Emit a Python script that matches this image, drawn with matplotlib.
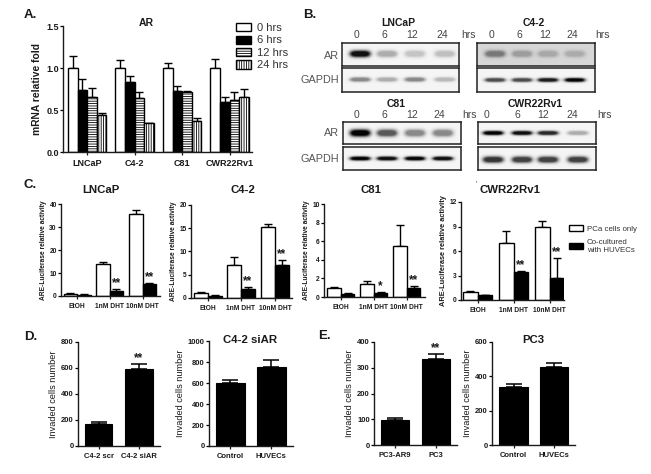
import matplotlib
matplotlib.use("Agg")
import matplotlib.pyplot as plt
from matplotlib.patches import Patch
import numpy as np

W, H = 651, 474
plt.rcParams["font.family"] = ["Liberation Sans", "DejaVu Sans"]
plt.rcParams["hatch.linewidth"] = 0.6
INK = "#1a1a1a"

# panel A
a_cells = ["LNCaP", "C4-2", "C81", "CWR22Rv1"]
a_times = ["0 hrs", "6 hrs", "12 hrs", "24 hrs"]
a_vals = [[1.0, 1.0, 1.0, 1.0], [0.74, 0.83, 0.73, 0.59], [0.66, 0.64, 0.71, 0.62], [0.44, 0.34, 0.37, 0.65]]
a_errs = [[0.14, 0.10, 0.06, 0.11], [0.13, 0.08, 0.05, 0.06], [0.10, 0.07, 0.02, 0.10], [0.02, 0.005, 0.03, 0.10]]

# panel B (band darkness per lane, 0 to 1)
b_lanes = ["0", "6", "12", "24"]
b_lnc_ar = [0.95, 0.30, 0.20, 0.22]
b_lnc_gapdh = [0.45, 0.30, 0.45, 0.25]
b_c42_ar = [0.45, 0.28, 0.22, 0.20]
b_c42_gapdh = [0.70, 0.70, 0.90, 1.0]
b_c81_ar = [1.0, 0.65, 0.45, 0.45]
b_c81_gapdh = [1.0, 0.95, 1.0, 0.95]
b_cwr_ar = [1.0, 0.95, 0.85, 0.30]
b_cwr_gapdh = [0.80, 0.75, 0.75, 0.75]

# panel C
c_groups = ["EtOH", "1nM DHT", "10nM DHT"]
c_lnc_only = [1.0, 13.7, 35.5]
c_lnc_only_err = [0.2, 1.0, 1.8]
c_lnc_co = [0.6, 2.2, 5.4]
c_lnc_co_err = [0.1, 0.8, 0.4]
c_c42_only = [1.0, 7.0, 15.3]
c_c42_only_err = [0.2, 1.8, 0.6]
c_c42_co = [0.5, 1.9, 7.2]
c_c42_co_err = [0.1, 0.4, 1.0]
c_c81_only = [1.0, 1.35, 5.5]
c_c81_only_err = [0.1, 0.4, 2.2]
c_c81_co = [0.35, 0.45, 1.0]
c_c81_co_err = [0.05, 0.05, 0.15]
c_cwr_only = [1.0, 7.0, 9.0]
c_cwr_only_err = [0.05, 1.5, 0.7]
c_cwr_co = [0.6, 3.4, 2.7]
c_cwr_co_err = [0.05, 0.15, 2.4]

# panels D and E
d1_labels = ["C4-2 scr", "C4-2 siAR"]
d1_vals = [170, 591]
d1_errs = [15, 40]
d2_labels = ["Control", "HUVECs"]
d2_vals = [596, 754]
d2_errs = [35, 66]
e1_labels = ["PC3-AR9", "PC3"]
e1_vals = [98, 335]
e1_errs = [8, 18]
e2_labels = ["Control", "HUVECs"]
e2_vals = [335, 457]
e2_errs = [19, 23]

fig = plt.figure(figsize=(W / 100, H / 100), dpi=100)


def px_axes(x0, y0, x1, y1):
    # Achsen in Bildpixeln angeben, x-Daten laufen in Pixeln ab der y-Achse
    ax = fig.add_axes([x0 / W, 1 - y1 / H, (x1 - x0) / W, (y1 - y0) / H])
    ax.set_xlim(0, x1 - x0)
    ax.spines["top"].set_visible(False)
    ax.spines["right"].set_visible(False)
    for s in ["left", "bottom"]:
        ax.spines[s].set_linewidth(1.0)
        ax.spines[s].set_color(INK)
    return ax


def px_text(x, y, s, **kw):
    kw.setdefault("color", INK)
    kw.setdefault("va", "center")
    fig.text(x / W, 1 - y / H, s, **kw)


def style_axis(ax, ymax, yticks, labels, xt, ylabel, tsize, lsize, weight="bold", lpad=1.5):
    ax.set_ylim(0, ymax)
    ax.set_yticks(yticks)
    ax.set_xticks(xt)
    ax.set_xticklabels(labels, fontsize=tsize, fontweight="bold", color=INK)
    ax.tick_params(axis="y", labelsize=tsize, length=2.5, width=0.9, pad=0.5, labelcolor=INK)
    ax.tick_params(axis="x", length=2, width=0.9, pad=3, color=INK)
    for t in ax.get_yticklabels():
        t.set_fontweight("bold")
    ax.set_ylabel(ylabel, fontsize=lsize, fontweight=weight, color=INK, labelpad=lpad)


# A
ax = px_axes(63, 26, 252, 152)
starts = [5, 52.3, 100, 147.3]
bw = 9.6
fills = ["white", "black", "white", "white"]
hatches = [None, None, "-------", "|||||||"]
for i in range(4):
    xs = [s + i * bw for s in starts]
    ax.bar(xs, a_vals[i], bw, color=fills[i], edgecolor="black", linewidth=1.0,
           hatch=hatches[i], align="edge", zorder=2)
    ax.errorbar([x + bw / 2 for x in xs], a_vals[i], yerr=[[0] * 4, a_errs[i]], fmt="none",
                ecolor="black", elinewidth=1.0, capsize=2.6, capthick=1.0, zorder=1)
style_axis(ax, 1.5, [0, 0.5, 1.0, 1.5], a_cells, [s + 2 * bw for s in starts], "mRNA relative fold", 6.5, 7.4, lpad=3)
ax.set_yticklabels(["0.0", "0.5", "1.0", "1.5"], fontweight="bold")
handles = [Patch(facecolor=fills[i], edgecolor="black", linewidth=1.0, hatch=hatches[i]) for i in range(4)]
fig.legend(handles, a_times, loc="upper left", bbox_to_anchor=(236 / W, 1 - 23 / H), frameon=False,
           fontsize=8, handlelength=1.35, handleheight=0.75, labelspacing=0.22, handletextpad=0.55,
           borderpad=0, borderaxespad=0, labelcolor="#333333")
px_text(146, 23, "AR", fontsize=7.5, fontweight="bold", ha="center")


# B
def blot(x0, y0, x1, y1, lanes, dark, sigx, sigy, bg=0.96, cy=0.5):
    # Blot-Bild aus den Bandenstärken aufbauen
    ax = fig.add_axes([x0 / W, 1 - y1 / H, (x1 - x0) / W, (y1 - y0) / H])
    nx, ny = (x1 - x0) * 2, (y1 - y0) * 2
    xx, yy = np.meshgrid(np.linspace(x0, x1, nx), np.linspace(0, 1, ny) * (y1 - y0))
    img = np.full((ny, nx), float(bg))
    ymid = (y1 - y0) * cy
    for lx, d in zip(lanes, dark):
        g = np.minimum(1, 1.6 * np.exp(-((xx - lx) / sigx) ** 4) * np.exp(-((yy - ymid) / sigy) ** 2))
        img -= g * d * bg * 0.98
    ax.imshow(np.clip(img, 0, 1), cmap="gray", vmin=0, vmax=1, aspect="auto", interpolation="bilinear")
    ax.set_xticks([])
    ax.set_yticks([])
    for s in ax.spines.values():
        s.set_linewidth(1.1)
        s.set_color("#222222")


lanes_lnc = [360, 387, 415, 445]
lanes_c42 = [495, 522, 548, 575]
lanes_c81 = [360, 387, 415, 443]
lanes_cwr = [493, 522, 548, 578]
blot(342, 43, 459, 66, lanes_lnc, b_lnc_ar, 10, 3.2, cy=0.47)
blot(342, 68, 459, 92, lanes_lnc, b_lnc_gapdh, 10, 2.0)
blot(477, 43, 595, 66, lanes_c42, b_c42_ar, 10, 3.2, bg=0.84, cy=0.47)
blot(477, 68, 595, 92, lanes_c42, b_c42_gapdh, 10, 1.8, cy=0.52)
blot(343, 122, 461, 144, lanes_c81, b_c81_ar, 10, 3.4, cy=0.5)
blot(343, 147, 461, 170, lanes_c81, b_c81_gapdh, 10, 1.9, cy=0.5)
blot(478, 122, 596, 144, lanes_cwr, b_cwr_ar, 10, 2.0, cy=0.5)
blot(478, 147, 596, 170, lanes_cwr, b_cwr_gapdh, 10, 3.0, cy=0.55)

for title, tx, lanes, hx, ly, ty in [("LNCaP", 398, lanes_lnc, 468, 35, 23),
                                     ("C4-2", 534, lanes_c42, 603, 35, 23),
                                     ("C81", 396, [359, 387, 415, 442], 470, 115, 104),
                                     ("CWR22Rv1", 535, [490, 520, 546, 575], 604, 115, 104)]:
    px_text(tx, ty, title, fontsize=7.5, fontweight="bold", ha="center")
    for lx, lab in zip(lanes, b_lanes):
        px_text(lx - 3, ly, lab, fontsize=7.5, ha="center", color="#444444")
    px_text(hx, ly, "hrs", fontsize=7.5, ha="center", color="#444444")
for x, y, lab in [(339, 56, "AR"), (339, 80, "GAPDH"), (339, 133, "AR"), (339, 159, "GAPDH")]:
    px_text(x, y, lab, fontsize=7.8, ha="right", color="#555555")


# C
def luc_panel(box, ymax, yticks, starts, bw, only, only_err, co, co_err, stars, title, tx, ty, lsize=4.8):
    ax = px_axes(*box)
    ends = [s + bw for s in starts]
    ax.bar(starts, only, bw, color="white", edgecolor="black", linewidth=1.0, align="edge", zorder=2)
    ax.bar(ends, co, bw, color="black", edgecolor="black", linewidth=1.0, align="edge", zorder=2)
    ax.errorbar([s + bw / 2 for s in starts], only, yerr=[[0] * 3, only_err], fmt="none", ecolor="black",
                elinewidth=1.0, capsize=2.8, capthick=1.0, zorder=1)
    ax.errorbar([e + bw / 2 for e in ends], co, yerr=[[0] * 3, co_err], fmt="none", ecolor="black",
                elinewidth=1.0, capsize=2.8, capthick=1.0, zorder=1)
    style_axis(ax, ymax, yticks, c_groups, ends, "ARE-Luciferase relative activity", 4.8, lsize, lpad=2)
    for xp, v, e, st in zip(ends, co, co_err, stars):
        if st:
            ax.annotate(st, (xp + bw / 2, v + e), xytext=(0, 0), textcoords="offset points", ha="center",
                        va="bottom", fontsize=8.5, fontweight="bold", color=INK)
    px_text(tx, ty, title, fontsize=8.2, fontweight="bold", ha="center")


luc_panel((61, 204, 160, 296), 40, [0, 10, 20, 30, 40], [2.5, 35, 68], 13.5, c_lnc_only, c_lnc_only_err,
          c_lnc_co, c_lnc_co_err, ["", "**", "**"], "LNCaP", 101, 190)
luc_panel((191, 205, 292, 298), 20, [0, 5, 10, 15, 20], [3, 36, 70], 14, c_c42_only, c_c42_only_err,
          c_c42_co, c_c42_co_err, ["", "**", "**"], "C4-2", 243, 190)
luc_panel((324, 204, 425, 297), 10, [0, 2, 4, 6, 8, 10], [3, 36, 69], 13.7, c_c81_only, c_c81_only_err,
          c_c81_co, c_c81_co_err, ["", "*", "**"], "C81", 371, 190)
luc_panel((461, 202, 564, 300), 12, [0, 3, 6, 9, 12], [2, 38, 74], 14.5, c_cwr_only, c_cwr_only_err,
          c_cwr_co, c_cwr_co_err, ["", "**", "**"], "CWR22Rv1", 510, 190, lsize=5.3)
px_text(476, 184, "'", fontsize=5, ha="center")

fig.legend([Patch(facecolor="white", edgecolor="black", linewidth=1.0), Patch(facecolor="black", edgecolor="black")],
           ["PCa cells only", "Co-cultured\nwith HUVECs"], loc="upper left", bbox_to_anchor=(569 / W, 1 - 225 / H),
           frameon=False, fontsize=5.7, handlelength=1.75, handleheight=0.8, labelspacing=0.75, handletextpad=0.5,
           borderpad=0, borderaxespad=0, labelcolor="#333333")


# D, E
def inv_panel(box, ymax, yticks, labels, vals, errs, starts, bw, star=None, title=None, tx=0, ty=0, tick=5.5, lab=6.6):
    ax = px_axes(*box)
    ax.bar(starts, vals, bw, color="black", edgecolor="black", linewidth=0.8, align="edge", zorder=2)
    ax.errorbar([s + bw / 2 for s in starts], vals, yerr=[[0] * 2, errs], fmt="none", ecolor="black",
                elinewidth=1.1, capsize=5.5, capthick=1.1, zorder=1)
    style_axis(ax, ymax, yticks, labels, [s + bw / 2 for s in starts], "Invaded cells number", tick, lab,
               weight="normal", lpad=2)
    if star:
        ax.annotate(star, (starts[1] + bw / 2, vals[1] + errs[1]), xytext=(0, 0), textcoords="offset points",
                    ha="center", va="bottom", fontsize=8.5, fontweight="bold", color=INK)
    if title:
        px_text(tx, ty, title, fontsize=8.2, fontweight="bold", ha="center")


inv_panel((78, 342, 160, 446), 800, [0, 200, 400, 600, 800], d1_labels, d1_vals, d1_errs, [6.5, 47], 28, star="**")
inv_panel((209, 341, 293, 446), 1000, [0, 200, 400, 600, 800, 1000], d2_labels, d2_vals, d2_errs, [7, 48], 28.5,
          title="C4-2 siAR", tx=250, ty=340)
inv_panel((374, 342, 457, 445), 400, [0, 100, 200, 300, 400], e1_labels, e1_vals, e1_errs, [7, 48], 28, star="**")
inv_panel((492, 342, 575, 445), 600, [0, 200, 400, 600], e2_labels, e2_vals, e2_errs, [7.5, 48], 28,
          title="PC3", tx=533, ty=340)

# Panelbuchstaben
for x, y, s in [(24, 15, "A."), (303, 15, "B."), (24, 185, "C."), (24, 337, "D."), (318, 336, "E.")]:
    px_text(x, y, s, fontsize=9.5, fontweight="bold", ha="left")

fig.savefig("out.png", dpi=100)
